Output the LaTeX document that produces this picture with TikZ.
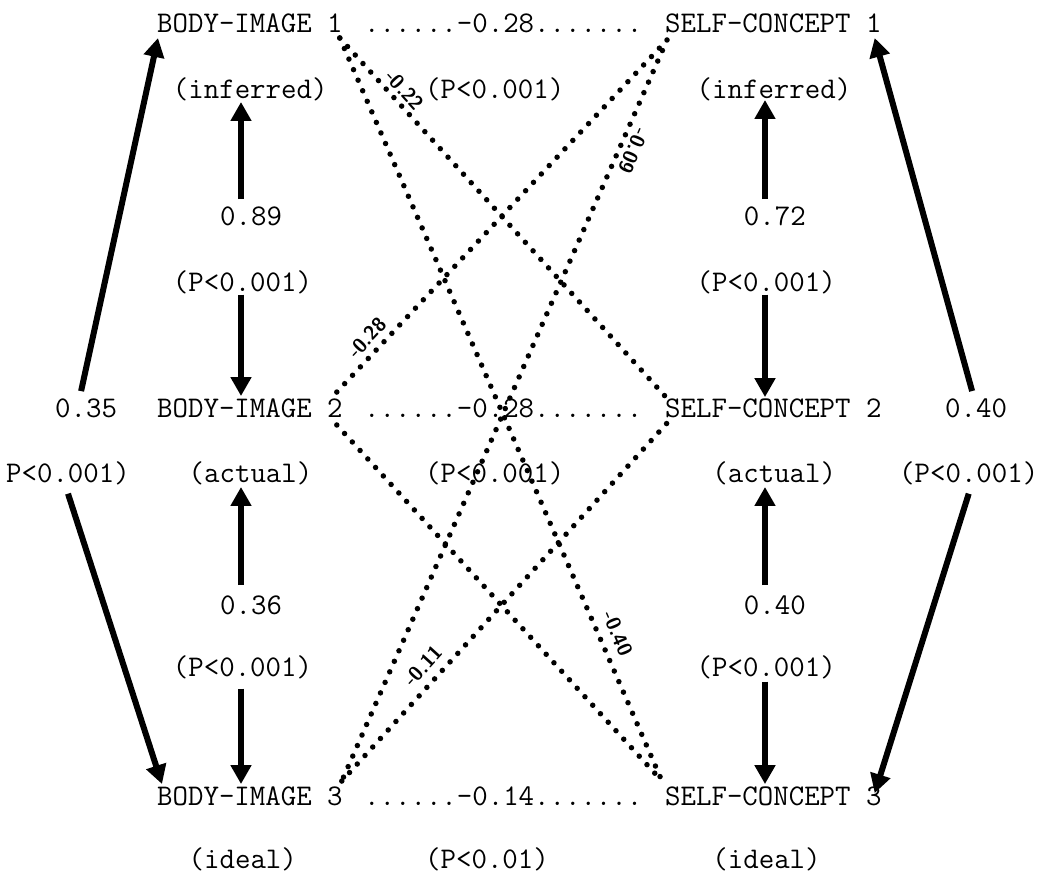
\documentclass[tikz,border=0pt]{standalone}
\usetikzlibrary{arrows.meta,calc}
\newcommand{\typew}{\ttfamily\fontsize{30}{36}\selectfont}
\newcommand{\corrfont}{\sffamily\bfseries\fontsize{20}{20}\selectfont}
\begin{document}
\begin{tikzpicture}[x=1pt,y=-1pt,
  txt/.style={font=\typew, inner sep=0pt, anchor=base west},
  arr/.style={line width=6pt, -{Triangle[length=19pt,width=20pt]}},
  dotline/.style={line width=5.5pt, line cap=round, dash pattern=on 0pt off 11.5pt},
  corr/.style={font=\corrfont, sloped, above, inner sep=#1},
]
\useasboundingbox (0,0) rectangle (1045,874);

% the three rows of variables with their direct correlations
\node[txt] (BI1) at (157,33)  {BODY-IMAGE 1};
\node[txt] (R1)  at (364,33)  {......-0.28.......};
\node[txt] (SC1) at (665,33)  {SELF-CONCEPT 1};
\node[txt] (BI2) at (157,418) {BODY-IMAGE 2};
\node[txt] (R2)  at (364,418) {......-0.28.......};
\node[txt] (SC2) at (665,418) {SELF-CONCEPT 2};
\node[txt] (BI3) at (157,805) {BODY-IMAGE 3};
\node[txt] (R3)  at (364,805) {......-0.14.......};
\node[txt] (SC3) at (665,805) {SELF-CONCEPT 3};

% left column
\node[txt] (infL) at (172.75,99)  {(inferred)};
\node[txt] (n089) at (220,226)    {0.89};
\node[txt] (pL1)  at (172.75,292) {(P<0.001)};
\node[txt] (actL) at (188.5,483)  {(actual)};
\node[txt] (n036) at (220,614)    {0.36};
\node[txt] (pL2)  at (172.75,676) {(P<0.001)};
\node[txt] (idL)  at (188.5,868)  {(ideal)};

% right column
\node[txt] (infR) at (696.5,99)   {(inferred)};
\node[txt] (n072) at (743.75,226) {0.72};
\node[txt] (pR1)  at (696.5,292)  {(P<0.001)};
\node[txt] (actR) at (712.25,483) {(actual)};
\node[txt] (n040) at (743.75,614) {0.40};
\node[txt] (pR2)  at (696.5,676)  {(P<0.001)};
\node[txt] (idR)  at (712.25,868) {(ideal)};

% middle significance levels
\node[txt] (pM1) at (425,99)  {(P<0.001)};
\node[txt] (pM2) at (425,483) {(P<0.001)};
\node[txt] (pM3) at (425,868) {(P<0.01)};

% outer labels
\node[txt] (o35) at (55,418)  {0.35};
\node[txt] (pOL) at (6,483)   {P<0.001)};
\node[txt] (o40) at (945,418) {0.40};
\node[txt] (pOR) at (899,483) {(P<0.001)};

% vertical arrows
\coordinate (colL) at (241,0);
\coordinate (colR) at (765,0);
\draw[arr] ($(colL |- n089.north)+(0,-8)$) -- ($(colL |- infL.base)+(0,3)$);
\draw[arr] (colL |- pL1.south) -- ($(colL |- BI2.north)+(0,-3)$);
\draw[arr] ($(colL |- n036.north)+(0,-10)$) -- ($(colL |- actL.base)+(0,4)$);
\draw[arr] ($(colL |- pL2.south)+(0,10)$) -- ($(colL |- BI3.north)+(0,-2)$);
\draw[arr] ($(colR |- n072.north)+(0,-8)$) -- ($(colR |- infR.base)+(0,1)$);
\draw[arr] (colR |- pR1.south) -- ($(colR |- SC2.north)+(0,-2)$);
\draw[arr] ($(colR |- n040.north)+(0,-10)$) -- ($(colR |- actR.base)+(0,4)$);
\draw[arr] ($(colR |- pR2.south)+(0,3)$) -- ($(colR |- SC3.north)+(0,-2)$);

% outer arrows
\draw[arr] ($(o35.north)+(-5,-8)$) -- ($(BI1.base west)+(1,5)$);
\draw[arr] ($(pOL.south)+(0,8)$) -- ($(BI3.north west)+(5,-2)$);
\draw[arr] ($(o40.north)+(-4,-8)$) -- ($(SC1.base east)+(-7,5)$);
\draw[arr] ($(pOR.south)+(0,8)$) -- ($(SC3.north east)+(-7,7)$);

% ends of the cross correlations
\coordinate (bi1o) at ($(BI1.base east)+(-3,5)$);
\coordinate (sc1o) at ($(SC1.base west)+(2,7)$);
\coordinate (bi2i) at ($(BI2.north east)+(-6,-7)$);
\coordinate (bi2o) at ($(BI2.base east)+(-6,7)$);
\coordinate (sc2i) at ($(SC2.north west)+(0,-3)$);
\coordinate (sc2o) at ($(SC2.base west)+(3,4)$);
\coordinate (bi3i) at ($(BI3.north east)+(-1,-5)$);
\coordinate (sc3i) at ($(SC3.north west)+(-3,-5)$);

% cross correlations
\draw[dotline] (bi1o) -- node[corr=3pt, pos=0.17] {-0.22} (sc2i);
\draw[dotline] (bi1o) -- node[corr=8pt, pos=0.811] {-0.40} (sc3i);
\draw[dotline] (bi2i) -- node[corr=5pt, pos=0.125] {-0.28} (sc1o);
\draw[dotline] (sc1o) -- node[corr=4pt, pos=0.142, allow upside down] {-0.09} (bi3i);
\draw[dotline] (bi2o) -- (sc3i);
\draw[dotline] (bi3i) -- node[corr=7pt, pos=0.289] {-0.11} (sc2o);
\end{tikzpicture}
\end{document}
